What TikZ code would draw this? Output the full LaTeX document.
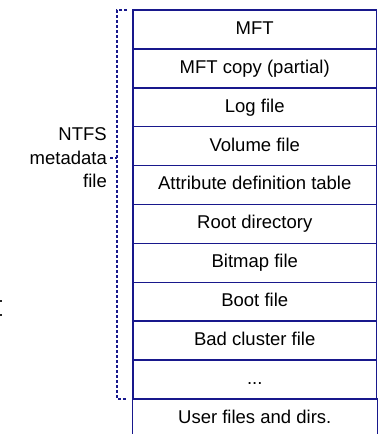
\documentclass[tikz,border=0pt]{standalone}
\usepackage{fontspec}
\setmainfont{Liberation Sans}
\definecolor{frameblue}{RGB}{24,24,140}
\begin{document}
\begin{tikzpicture}[x=1pt,y=-1pt,
  cell/.style={draw=frameblue, line width=1.5pt, minimum width=243.5pt,
    minimum height=38.9pt, inner sep=0pt, text height=12pt, text depth=2.3pt,
    font=\fontsize{18.5}{22}\selectfont},
  opencell/.style={cell, draw=none},
  side/.style={draw=frameblue, line width=1.5pt},
  bracket/.style={draw=frameblue, line width=2pt, dash pattern=on 3pt off 2pt},
  caption/.style={align=right, inner sep=3pt, font=\fontsize{18.5}{23.5}\selectfont}]
\useasboundingbox (0,0) rectangle (381,434);

% the stacked records of the volume
\foreach \t [count=\i] in {MFT, MFT copy (partial), Log file, Volume file,
    Attribute definition table, Root directory, Bitmap file, Boot file,
    Bad cluster file}
  \node[cell] (row\i) at (254.75, {10+38.9*(\i-0.5)}) {\t};
\node[cell] (row10) at (254.75, 379.55) {...};

% last record runs off the bottom edge
\node[opencell] (user) at (254.75, 418.45) {User files and dirs.};
\draw[side] (user.north west) -- (user.south west);
\draw[side] (user.north east) -- (user.south east);

% bracket grouping the metadata records
\coordinate (bt) at (127,10);
\coordinate (bb) at (127,399);
\coordinate (bx) at (117,0);
\draw[bracket] (bt) -| (bx |- bb) -- (bb);

\node[caption, anchor=east] (meta) at (110,157.7) {NTFS\\metadata\\file};
\draw[bracket] (meta.east) -- (meta.east -| bx);

% two small marks at the left edge
\fill[black!85] (0,300.4) rectangle (1.8,302.4);
\fill[black!85] (0,313.8) rectangle (1.8,315.8);
\end{tikzpicture}
\end{document}
